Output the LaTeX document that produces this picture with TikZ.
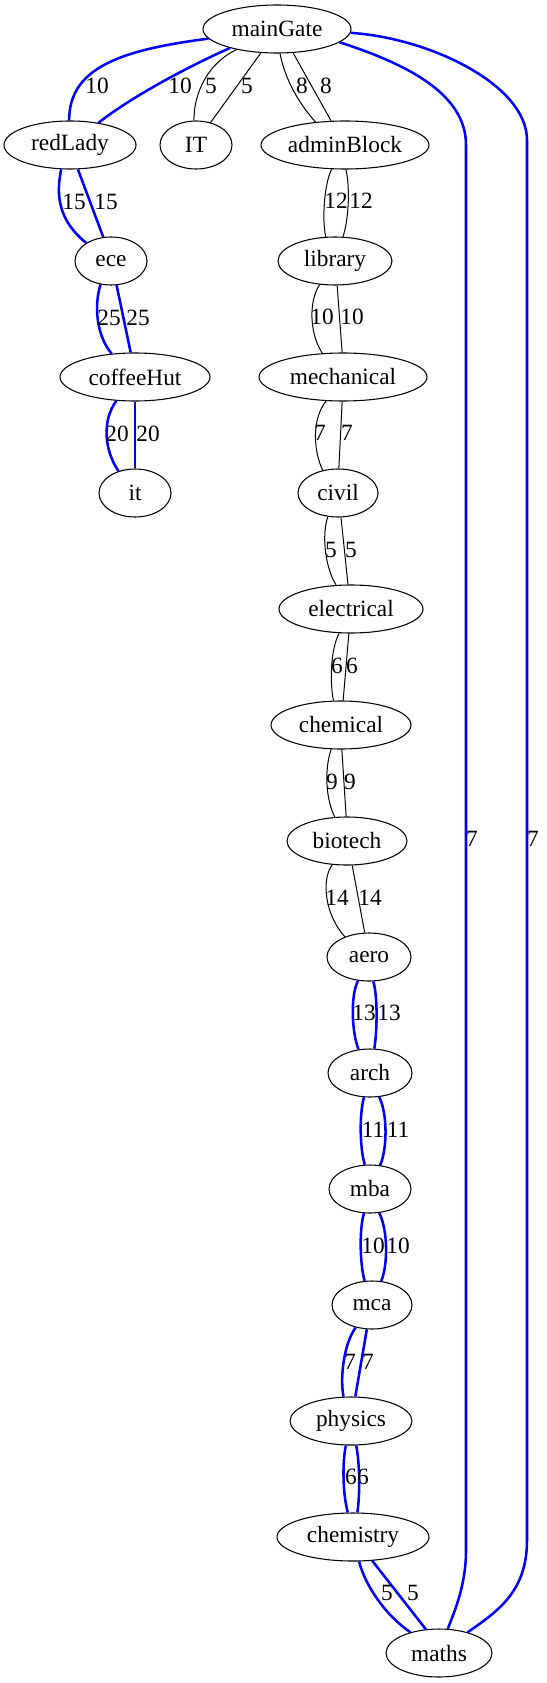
\documentclass[tikz,border=0pt]{standalone}
\usepackage{fontspec}
\setmainfont{Liberation Serif}
\usetikzlibrary{shapes.geometric}

\tikzset{
  spot/.style={ellipse, draw, line width=0.8pt, inner sep=0pt, minimum height=36pt, font=\fontsize{17.5}{20}\selectfont},
  road/.style={draw, black, line width=0.75pt},
  bluepath/.style={draw, blue, line width=1.9pt},
  dist/.style={inner sep=0pt, font=\fontsize{17.5}{20}\selectfont}
}

\begin{document}
\begin{tikzpicture}[x=0.75pt, y=-0.75pt]
			\useasboundingbox (0,0) rectangle (546,1683);

			% Define nodes
			\node[spot, minimum width=111pt] (mainGate) at (277,29) {mainGate};      % Top node
			\node[spot, minimum width=99pt] (redLady) at (70,145) {redLady};
			\node[spot, minimum width=54pt] (IT) at (196,145) {IT};
			\node[spot, minimum width=126pt] (adminBlock) at (345,145) {adminBlock};
			\node[spot, minimum width=54pt] (ece) at (111,261) {ece};
			\node[spot, minimum width=112.5pt] (coffeeHut) at (135,377) {coffeeHut};
			\node[spot, minimum width=54pt] (it) at (135,493) {it};
			\node[spot, minimum width=85.5pt] (library) at (335,261) {library};
			\node[spot, minimum width=126pt] (mechanical) at (343,377) {mechanical};
			\node[spot, minimum width=60pt] (civil) at (338,493) {civil};
			\node[spot, minimum width=108pt] (electrical) at (351,609) {electrical};
			\node[spot, minimum width=105pt] (chemical) at (341,725) {chemical};
			\node[spot, minimum width=90pt] (biotech) at (347,841) {biotech};
			\node[spot, minimum width=63pt] (aero) at (369,957) {aero};
			\node[spot, minimum width=63pt] (arch) at (370,1073) {arch};
			\node[spot, minimum width=61.5pt] (mba) at (370,1189) {mba};
			\node[spot, minimum width=60pt] (mca) at (372,1305) {mca};
			\node[spot, minimum width=91.5pt] (physics) at (351,1421) {physics};
			\node[spot, minimum width=114pt] (chemistry) at (353,1537) {chemistry};
			\node[spot, minimum width=79.5pt] (maths) at (439,1653) {maths};   % Bottom node

			% Edges out of mainGate
			\draw[bluepath] (mainGate.188) .. controls (120,50) and (69,68) .. (redLady.92);
			\draw[bluepath] (mainGate.202) .. controls (185,68) and (130,98) .. (redLady.38);
			\draw[road] (mainGate.207) .. controls (210,62) and (194,90) .. (IT.95);
			\draw[road] (mainGate.236) -- (IT.57);
			\draw[road] (mainGate.277) .. controls (285,80) and (300,105) .. (adminBlock.142);
			\draw[road] (mainGate.304) -- (adminBlock.120);
			\draw[bluepath] (mainGate.348) .. controls (410,65) and (466,95) .. (466,145) -- (466,1550)
				.. controls (466,1585) and (455,1610) .. (maths.70);
			\draw[bluepath] (mainGate.357) .. controls (430,38) and (527,85) .. (527,140) -- (527,1540)
				.. controls (527,1590) and (500,1610) .. (maths.36);

			% Left branch
			\draw[bluepath] (redLady.250) .. controls (56,195) and (58,220) .. (ece.144);
			\draw[bluepath] (redLady.288) -- (ece.108);
			\draw[bluepath] (ece.246) .. controls (94,305) and (96,335) .. (coffeeHut.135);
			\draw[bluepath] (ece.283) -- (coffeeHut.100);
			\draw[bluepath] (coffeeHut.232) .. controls (102,420) and (104,450) .. (it.127);
			\draw[bluepath] (coffeeHut.270) -- (it.90);

			% Middle chain
			\draw[road] (adminBlock.241) .. controls (324,185) and (322,220) .. (library.111);
			\draw[road] (adminBlock.272) .. controls (350,185) and (349,220) .. (library.72);
			\draw[road] (library.237) .. controls (308,302) and (310,335) .. (mechanical.131);
			\draw[road] (library.275) -- (mechanical.92);
			\draw[road] (mechanical.235) .. controls (312,418) and (313,450) .. (civil.124);
			\draw[road] (mechanical.268) -- (civil.88);
			\draw[road] (civil.247) .. controls (322,532) and (324,565) .. (electrical.122);
			\draw[road] (civil.277) -- (electrical.97);
			\draw[road] (electrical.244) .. controls (330,650) and (330,685) .. (chemical.107);
			\draw[road] (electrical.265) -- (chemical.85);
			\draw[road] (chemical.248) .. controls (324,770) and (326,800) .. (biotech.117);
			\draw[road] (chemical.272) -- (biotech.92);
			\draw[road] (biotech.238) .. controls (321,880) and (325,915) .. (aero.140);
			\draw[road] (biotech.282) -- (aero.100);
			\draw[bluepath] (aero.245) .. controls (350,997) and (352,1033) .. (arch.116);
			\draw[bluepath] (aero.280) .. controls (378,997) and (377,1033) .. (arch.80);
			\draw[bluepath] (arch.256) .. controls (359,1115) and (360,1150) .. (mba.102);
			\draw[bluepath] (arch.291) .. controls (388,1115) and (387,1150) .. (mba.67);
			\draw[bluepath] (mba.256) .. controls (359,1230) and (360,1265) .. (mca.107);
			\draw[bluepath] (mba.291) .. controls (388,1230) and (388,1265) .. (mca.69);
			\draw[bluepath] (mca.234) .. controls (343,1345) and (340,1380) .. (physics.107);
			\draw[bluepath] (mca.258) -- (physics.80);
			\draw[bluepath] (physics.258) .. controls (342,1465) and (343,1495) .. (chemistry.102);
			\draw[bluepath] (physics.282) .. controls (360,1465) and (360,1495) .. (chemistry.80);
			\draw[bluepath] (chemistry.284) .. controls (365,1585) and (385,1615) .. (maths.144);
			\draw[bluepath] (chemistry.309) -- (maths.119);

			% Edge weights
			\node[dist] (w1a) at (97,86) {10};
			\node[dist] (w1b) at (180,86) {10};
			\node[dist] (w2a) at (211,86) {5};
			\node[dist] (w2b) at (247,86) {5};
			\node[dist] (w3a) at (302,86) {8};
			\node[dist] (w3b) at (326,86) {8};
			\node[dist] (w4a) at (472,839) {7};
			\node[dist] (w4b) at (533,839) {7};
			\node[dist] (w5a) at (74,202) {15};
			\node[dist] (w5b) at (106,202) {15};
			\node[dist] (w6a) at (109,318) {25};
			\node[dist] (w6b) at (138,318) {25};
			\node[dist] (w7a) at (117,434) {20};
			\node[dist] (w7b) at (148,434) {20};
			\node[dist] (w8a) at (336,201) {12};
			\node[dist] (w8b) at (361,201) {12};
			\node[dist] (w9a) at (322,317) {10};
			\node[dist] (w9b) at (352,317) {10};
			\node[dist] (w10a) at (320,433) {7};
			\node[dist] (w10b) at (347,433) {7};
			\node[dist] (w11a) at (331,550) {5};
			\node[dist] (w11b) at (351,550) {5};
			\node[dist] (w12a) at (337,666) {6};
			\node[dist] (w12b) at (352,666) {6};
			\node[dist] (w13a) at (332,782) {9};
			\node[dist] (w13b) at (350,782) {9};
			\node[dist] (w14a) at (337,898) {14};
			\node[dist] (w14b) at (370,898) {14};
			\node[dist] (w15a) at (364,1013) {13};
			\node[dist] (w15b) at (389,1013) {13};
			\node[dist] (w16a) at (373,1130) {11};
			\node[dist] (w16b) at (398,1130) {11};
			\node[dist] (w17a) at (373,1246) {10};
			\node[dist] (w17b) at (398,1246) {10};
			\node[dist] (w18a) at (350,1362) {7};
			\node[dist] (w18b) at (368,1362) {7};
			\node[dist] (w19a) at (351,1477) {6};
			\node[dist] (w19b) at (363,1477) {6};
			\node[dist] (w20a) at (387,1593) {5};
			\node[dist] (w20b) at (413,1593) {5};
\end{tikzpicture}
\end{document}
